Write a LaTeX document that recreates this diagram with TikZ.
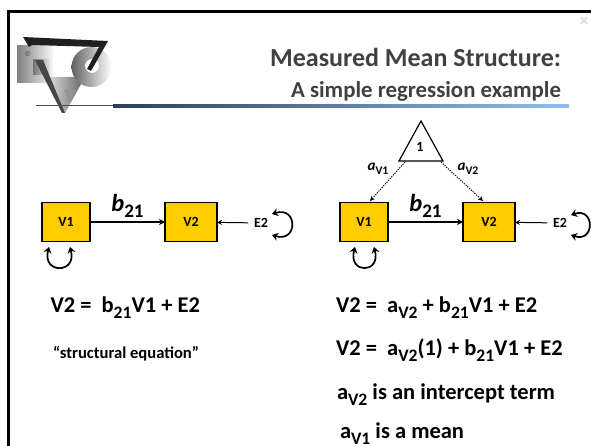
\documentclass[tikz,border=0pt]{standalone}
\usepackage{fontspec}
\setmainfont{Carlito}
\usetikzlibrary{arrows.meta, positioning}
\definecolor{boxyellow}{HTML}{FFCC00}
\definecolor{titlegray}{HTML}{404040}
\definecolor{rulenavy}{HTML}{2F3F55}
\definecolor{rulesteel}{HTML}{6488B0}
\definecolor{rulesky}{HTML}{8FC0F0}
\newcommand{\fs}[1]{\fontsize{#1}{#1}\selectfont\bfseries}
\newcommand{\lowsub}[1]{\raisebox{-0.27em}{\scalebox{0.78}{#1}}}
\begin{document}
\begin{tikzpicture}[x=1pt, y=-1pt,
    every node/.style={inner sep=0pt, outer sep=0pt},
    varbox/.style={draw, line width=1.2pt, fill=boxyellow, minimum width=48pt, minimum height=39.5pt, font=\fs{14}},
    eqn/.style={anchor=base west, font=\fs{22.5}},
    titletext/.style={anchor=base east, text=titlegray},
    path/.style={line width=1.7pt, -{Stealth[length=6pt, width=6pt]}},
    errpath/.style={line width=1pt, shorten <=6pt, -{Stealth[length=5pt, width=5pt]}},
    meanpath/.style={line width=1pt, dash pattern=on 1.2pt off 1.2pt, -{Stealth[length=5pt, width=5pt]}},
    loopline/.style={line width=1.7pt, {Stealth[length=6pt, width=8pt]}-{Stealth[length=6pt, width=8pt]}}]
    \useasboundingbox (0,0) rectangle (591,446);
    % frame
    \draw[line width=2.3pt] (8.5,446) -- (8.5,11.5) -- (591,11.5);
    \node[text=black!15, font=\fs{18}] (closemark) at (584,22) {×};
    % logo
    \shade[left color=black!50, right color=black!3] (17,46) rectangle (53,83);
    \shade[left color=black!55, right color=black!10] (33,60) rectangle (50,75);
    \shade[left color=black!12, right color=black!62] (47,77) -- (85,77) -- (65,113) -- cycle;
    \fill[black!42] (64,90) -- (76,90) -- (69,102) -- cycle;
    \fill[black!72] (35,60) -- (43,60) -- (65,113) -- (62,113) -- cycle;
    \shade[left color=black!62, right color=white, even odd rule] (91.5,67) circle[radius=20] (92,66) circle[radius=7];
    \fill[black!88] (23,37) -- (108,41) -- (91,71) -- (87,69) -- (99,47) -- (32,45) -- (29,47) -- cycle;
    \node[font=\fontsize{7}{7}\selectfont, text=black!75] (logomark) at (28,54) {©};
    \draw[black!70, line width=1pt] (36,106) -- (113,106);
    \shade[left color=rulenavy, middle color=rulesteel, right color=rulesky] (113,105) rectangle (569,108);
    % title
    \node[titletext, font=\fs{26}] (title) at (561,67) {Measured Mean Structure:};
    \node[titletext, font=\fs{22.8}] (subtitle) at (561,98) {A simple regression example};
    % left model
    \node[varbox] (leftvone) at (66,222) {V1};
    \node[varbox, minimum width=52pt] (leftvtwo) at (191,222) {V2};
    \node[font=\fs{14}] (lefterr) at (261,223) {E2};
    \coordinate (leftvonea) at (49,247);
    \coordinate (leftvoneb) at (70,247);
    \coordinate (lefterra) at (272,214);
    \coordinate (lefterrb) at (272,235);
    \draw[path] (leftvone) -- node[above=4pt, font=\fs{24.5}] (leftb) {\textit{b}\lowsub{21}} (leftvtwo);
    \draw[errpath] (lefterr) -- (leftvtwo);
    \draw[loopline] (leftvonea) .. controls (42,274) and (77,274) .. (leftvoneb);
    \draw[loopline] (lefterra) .. controls (298,206) and (298,243) .. (lefterrb);
    % right model
    \node[varbox] (rightvone) at (364,222) {V1};
    \node[varbox, minimum width=52pt] (rightvtwo) at (489,222) {V2};
    \node[font=\fs{14}] (righterr) at (560,223) {E2};
    \path[draw, line width=1.2pt, fill=white] (421,121) -- (443,161) -- (399,161) -- cycle;
    \node[font=\fs{14}] (const) at (420,147) {1};
    \coordinate (constleft) at (405,162);
    \coordinate (constright) at (441,162);
    \coordinate (rightvonetop) at (370,201);
    \coordinate (rightvtwotop) at (483,201);
    \coordinate (rightvonea) at (355,247);
    \coordinate (rightvoneb) at (374,247);
    \coordinate (righterra) at (571,215);
    \coordinate (righterrb) at (571,235);
    \draw[path] (rightvone) -- node[above=4pt, font=\fs{24.5}] (rightb) {\textit{b}\lowsub{21}} (rightvtwo);
    \draw[errpath] (righterr) -- (rightvtwo);
    \draw[meanpath] (constleft) -- (rightvonetop);
    \draw[meanpath] (constright) -- (rightvtwotop);
    \node[font=\fs{15}] (aleft) at (378,169) {\textit{a}\lowsub{V1}};
    \node[font=\fs{15}] (aright) at (468,169) {\textit{a}\lowsub{V2}};
    \draw[loopline] (rightvonea) .. controls (348,274) and (381,274) .. (rightvoneb);
    \draw[loopline] (righterra) .. controls (595,207) and (595,243) .. (righterrb);
    % equations
    \node[eqn] (eqleft) at (50.5,312) {V2 =\ \ b\lowsub{21}V1 + E2};
    \node[eqn, font=\fs{16.6}] (eqname) at (53,358) {“structural equation”};
    \node[eqn] (eqone) at (336,312) {V2 =\ \ a\lowsub{V2} + b\lowsub{21}V1 + E2};
    \node[eqn] (eqtwo) at (336,355) {V2 =\ \ a\lowsub{V2}(1) + b\lowsub{21}V1 + E2};
    \node[eqn] (eqthree) at (337,399) {a\lowsub{V2} is an intercept term};
    \node[eqn] (eqfour) at (340,438) {a\lowsub{V1} is a mean};
\end{tikzpicture}
\end{document}
